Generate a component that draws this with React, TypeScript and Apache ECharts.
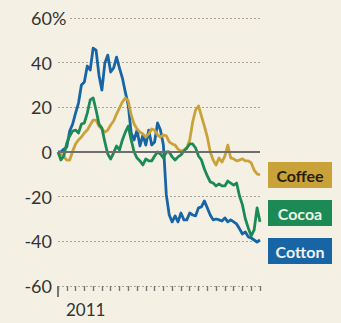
import React, { useEffect, useRef } from "react";
import * as echarts from "echarts";

const periods = Array.from({ length: 70 }, (_, i) => String(i));
const yTicks = [-60, -40, -20, 0, 20, 40, 60];
const startLabel = "2011";

const cotton = [
  0, 0, 1.3, 2.2, 9.4, 12.5, 17.4, 21.9, 30, 31.3,
  38.5, 36.7, 46.5, 45.6, 34.4, 27.7, 39.8, 43.4, 35.8, 37.6,
  42.5, 37.6, 33.1, 26.8, 21, 8.5, 5.4, 9.8, 2.7, 7.6,
  3.1, 9.8, 3.1, 4.5, 13, 9.8, 3.1, -19.2, -28.2, -31.3,
  -28.6, -31.3, -27.3, -30.4, -30.4, -27.3, -28.2, -28.6, -25, -24.6,
  -21.9, -25, -28.2, -30.4, -30, -30.4, -30.9, -29.5, -31.3, -30.4,
  -31.3, -32.2, -34.4, -36.7, -35.8, -38, -38.5, -39.4, -40.3, -39.4,
];

const cocoa = [
  0, -3.6, -1.8, 4, 7.2, 9.4, 9.8, 8.5, 12.5, 13,
  17.4, 23.3, 24.2, 18.8, 12.5, 10.7, 4.5, -0.9, -3.1, -0.4,
  2.7, 0.9, 5.4, 8.9, 11.6, 5.4, 0, -2.7, -4, -5.8,
  -3.1, -4, -4, -1.8, 0, -0.9, -2.7, 0, 0, -2.2,
  -3.6, -2.2, -1.3, 0.4, 1.8, 3.6, 3.6, 1.8, -1.8, -3.6,
  -7.6, -10.7, -13.4, -13.9, -15.2, -14.3, -15.2, -15.2, -13, -13.9,
  -14.8, -13.9, -19.7, -23.7, -30, -34, -37.6, -34.9, -25, -31.3,
];

const coffee = [
  0, -0.9, -2.2, -3.6, -3.6, 0.4, 3.6, 5.4, 6.7, 8.5,
  9.8, 12.1, 14.3, 14.3, 11.6, 10.3, 8.9, 9.8, 12.1, 13.9,
  17, 19.7, 22.4, 24.2, 22.8, 16.6, 12.5, 10.3, 8.9, 8.1,
  6.7, 8.1, 10.3, 9.8, 7.6, 6.7, 7.6, 7.2, 4.5, 3.6,
  3.1, 1.3, 0.4, 0.9, 1.8, 5.4, 13.4, 18.8, 20.6, 16.1,
  11.6, 6.7, 0, -3.6, -5.8, -2.7, -4.5, -1.8, 3.1, -2.7,
  -3.1, -4, -3.6, -3.1, -4, -4, -4.9, -8.1, -9.8, -10.3,
];

const seriesNames = ["Coffee", "Cocoa", "Cotton"];
const seriesColors = ["#c9a23a", "#1c8a55", "#1865a5"];
const labelTextColors = ["#2a1e08", "#eef3ea", "#eef3f8"];

const BG = "#f5f0e4";
const FONT = "Lato, 'Open Sans', sans-serif";

export default function App() {
  const ref = useRef<HTMLDivElement>(null);
  useEffect(() => {
    document.body.style.margin = "0";
    document.body.style.background = BG;
    const chart = echarts.init(ref.current!, null, { renderer: "svg" });
    const lineSeries = (name: string, data: number[], color: string, z: number) => ({
      name,
      type: "line",
      data,
      symbol: "none",
      smooth: false,
      z,
      lineStyle: { color, width: 2.8, join: "round" },
      emphasis: { disabled: true },
    });
    const boxes = [
      { top: 162, i: 0 },
      { top: 200, i: 1 },
      { top: 238, i: 2 },
    ];
    chart.setOption({
      animation: false,
      backgroundColor: BG,
      grid: { left: 58, right: 81, top: 18, bottom: 37, containLabel: false },
      xAxis: [
        {
          type: "category",
          data: periods,
          boundaryGap: false,
          axisLine: { show: false, onZero: false },
          axisTick: {
            show: true,
            interval: 2,
            length: 5,
            lineStyle: { color: "#777", width: 1.4 },
          },
          axisLabel: {
            show: true,
            interval: (i: number) => i === 0,
            formatter: (_v: string, i: number) => (i === 0 ? startLabel : ""),
            align: "left",
            padding: [0, 0, 0, 8],
            margin: 15,
            fontSize: 17,
            fontFamily: FONT,
            color: "#333",
          },
          splitLine: { show: false },
        },
        {
          type: "category",
          data: periods,
          boundaryGap: false,
          position: "bottom",
          axisLine: { show: false, onZero: false },
          axisTick: {
            show: true,
            interval: (i: number) => i === 0,
            length: 11,
            lineStyle: { color: "#777", width: 2 },
          },
          axisLabel: { show: false },
          splitLine: { show: false },
        },
      ],
      yAxis: {
        type: "value",
        min: yTicks[0],
        max: yTicks[yTicks.length - 1],
        interval: 20,
        axisLine: { show: false },
        axisTick: { show: false },
        axisLabel: {
          margin: 6,
          fontSize: 18,
          fontFamily: FONT,
          color: "#333",
          formatter: (v: number) => (v < 0 ? "-" + Math.abs(v) : String(v)),
        },
        splitLine: {
          lineStyle: { color: "#a8a298", type: [2, 2], width: 1.2 },
        },
      },
      series: [
        {
          type: "line",
          data: [],
          z: 1,
          markLine: {
            silent: true,
            symbol: ["none", "none"],
            label: { show: false },
            lineStyle: { color: "#6e6e6e", width: 2, type: "solid" },
            data: [{ yAxis: 0 }],
          },
        },
        lineSeries(seriesNames[2], cotton, seriesColors[2], 2),
        lineSeries(seriesNames[0], coffee, seriesColors[0], 3),
        lineSeries(seriesNames[1], cocoa, seriesColors[1], 4),
      ],
      graphic: [
        {
          type: "text",
          left: 52,
          top: 9,
          z: 10,
          style: {
            text: "%",
            fontSize: 18,
            fontFamily: FONT,
            fill: "#333",
            backgroundColor: BG,
            padding: [0, 2, 0, 0],
          },
        },
        ...boxes.map((b) => ({
          type: "group",
          left: 268,
          top: b.top,
          children: [
            {
              type: "rect",
              shape: { x: 0, y: 0, width: 64, height: 26 },
              style: { fill: seriesColors[b.i] },
            },
            {
              type: "text",
              x: 32,
              y: 13,
              style: {
                text: seriesNames[b.i],
                fontSize: 16,
                fontWeight: "bold",
                fontFamily: FONT,
                fill: labelTextColors[b.i],
                align: "center",
                verticalAlign: "middle",
              },
            },
          ],
        })),
      ],
    });
    return () => chart.dispose();
  }, []);
  return <div ref={ref} style={{ width: 341, height: 323, background: BG }} />;
}
